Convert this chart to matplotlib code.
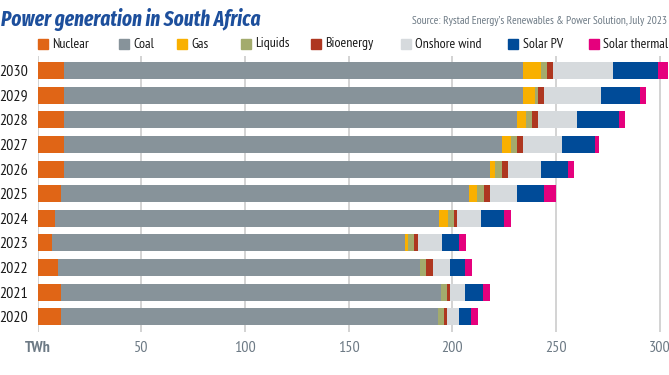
import matplotlib
matplotlib.use("Agg")
import matplotlib.pyplot as plt
from matplotlib import font_manager
from matplotlib.patches import Rectangle
import numpy as np


def first_font(cands): # first installed family from the list
    have = set(f.name for f in font_manager.fontManager.ttflist)
    for c in cands:
        if c in have:
            return c
    return "DejaVu Sans"


body_font = first_font(["PT Sans Narrow", "Fira Sans Extra Condensed", "Asap Condensed", "Barlow Condensed"])
title_font = first_font(["Fira Sans Extra Condensed", "Fira Sans Condensed", "Asap Condensed", "Roboto Condensed", "Barlow Semi Condensed"])
plt.rcParams['font.family'] = [body_font, 'DejaVu Sans']

years = ["2020", "2021", "2022", "2023", "2024", "2025", "2026", "2027", "2028", "2029", "2030"]
sources = ["Nuclear", "Coal", "Gas", "Liquids", "Bioenergy", "Onshore wind", "Solar PV", "Solar thermal"]
colors = ["#E06516", "#87939A", "#F9B000", "#A3AB6D", "#AE3720", "#D6DADD", "#004B98", "#E5007D"]

# TWh, 2020 -> 2030
nuclear = [11.4, 11.4, 9.9, 7.0, 8.3, 11.4, 12.8, 12.8, 12.8, 12.8, 12.8]
coal = [181.8, 183.2, 174.6, 170.2, 185.2, 196.6, 205.3, 211.1, 218.4, 221.3, 221.3]
gas = [0.0, 0.0, 0.0, 1.5, 4.2, 4.0, 2.7, 4.2, 4.2, 5.8, 8.6]
liquids = [2.8, 2.9, 2.9, 2.7, 3.0, 3.2, 3.1, 3.1, 2.9, 1.2, 2.9]
bioenergy = [1.5, 1.4, 3.1, 1.8, 1.3, 2.9, 2.9, 2.9, 3.1, 3.2, 3.0]
onshore_wind = [5.8, 7.3, 8.4, 11.6, 11.6, 13.0, 15.9, 18.7, 18.6, 27.3, 28.8]
solar_pv = [5.8, 8.8, 7.3, 8.5, 11.4, 12.9, 13.1, 16.1, 20.4, 19.0, 21.8]
solar_thermal = [3.1, 3.1, 3.2, 3.1, 3.2, 5.9, 2.9, 1.6, 3.1, 2.8, 4.7]

series = [nuclear, coal, gas, liquids, bioenergy, onshore_wind, solar_pv, solar_thermal]

fig = plt.figure(figsize=(6.69, 3.75), dpi=100)
ax = fig.add_axes([0.0564, 0.116, 0.9436, 0.735])

y = np.arange(len(years))
left = np.zeros(len(years))
for name, vals, col in zip(sources, series, colors):
    ax.barh(y, vals, left=left, height=0.69, color=col, label=name, zorder=3)
    left += np.array(vals)

ax.set_xlim(0, 304.5)
ax.set_ylim(-0.6, len(years) - 0.4)
ax.set_yticks(y)
ax.set_yticklabels(years, fontsize=11.5, color="#1A1A1A")
ax.set_xticks([0, 50, 100, 150, 200, 250, 300])
ax.set_xticklabels(["TWh", "50", "100", "150", "200", "250", "300"], fontsize=11.5, color="#6D7A85")
ax.get_xticklabels()[0].set_fontweight("bold")
ax.tick_params(length=0, pad=7)
ax.tick_params(axis="y", pad=7)
ax.grid(axis="x", color="#CCCCCC", linewidth=1.2, zorder=0)
for s in ax.spines.values():
    s.set_visible(False)

fig.text(0.002, 0.947, "Power generation in South Africa", fontsize=15, fontweight="bold",
         fontstyle="italic", color="#1D4F9C", va="center", ha="left", family=title_font)
fig.text(0.997, 0.945, "Source: Rystad Energy\u2019s Renewables & Power Solution, July 2023",
         fontsize=8.2, color="#6D7A85", va="center", ha="right")

# legend laid out by hand, left edge of each key in pixels
key_x = [37.7, 119, 176.7, 240.7, 310.7, 400.7, 508.3, 588.7]
W, H = 669.0, 375.0
for kx, name, col in zip(key_x, sources, colors):
    fig.add_artist(Rectangle((kx / W, (H - 49) / H), 10 / W, 10 / H, color=col,
                             transform=fig.transFigure))
    fig.text((kx + 14.5) / W, (H - 44) / H, name, fontsize=10, color="#1A1A1A",
             va="center", ha="left")

fig.savefig("out.png", dpi=100)
